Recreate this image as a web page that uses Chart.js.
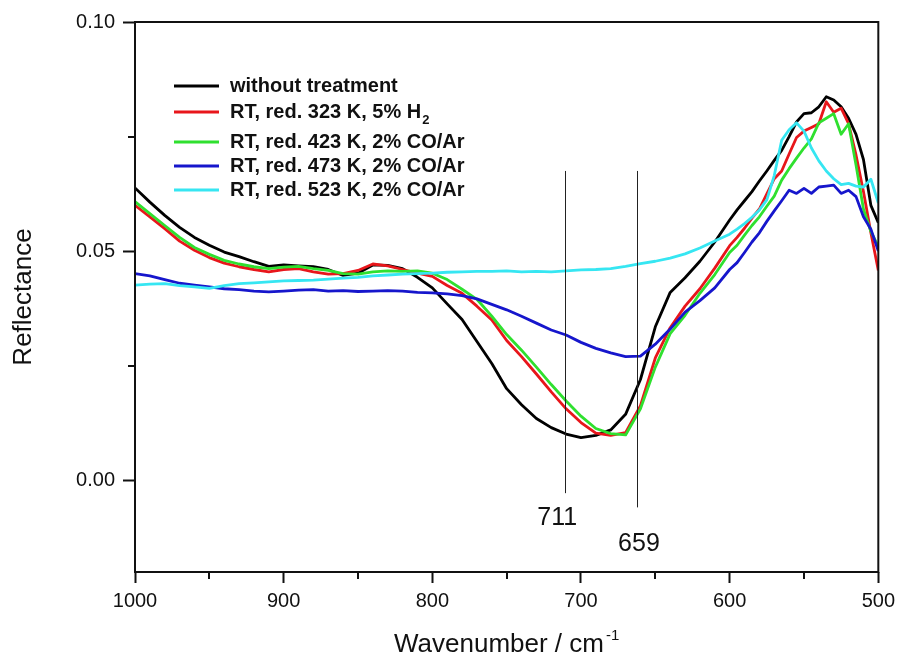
<!DOCTYPE html>
<html>
<head>
<meta charset="utf-8">
<script src="https://cdn.jsdelivr.net/npm/chart.js@4.4.8/dist/chart.umd.min.js"></script>
<style>
  html, body { margin: 0; padding: 0; background: #fff; }
  #wrap { width: 901px; height: 661px; }
</style>
</head>
<body>
<div id="wrap"><canvas id="chart" width="901" height="661"></canvas></div>
<script>
const FONT = "'Liberation Sans', Arial, Helvetica, sans-serif";

// wavenumber grid (cm-1), 10 steps down to 610, then 5 steps to 500
const wavenumbers = [
  1000, 990, 980, 970, 960, 950, 940, 930, 920, 910,
  900, 890, 880, 870, 860, 850, 840, 830, 820, 810,
  800, 790, 780, 770, 760, 750, 740, 730, 720, 710,
  700, 690, 680, 670, 660, 650, 640, 630, 620, 610,
  600, 595, 590, 585, 580, 575, 570, 565, 560, 555,
  550, 545, 540, 535, 530, 525, 520, 515, 510, 505, 500
];

const withoutTreatment = [
  0.0638, 0.0607, 0.0578, 0.0552, 0.0530, 0.0513, 0.0498, 0.0488, 0.0477, 0.0467,
  0.0470, 0.0468, 0.0466, 0.0460, 0.0447, 0.0452, 0.0470, 0.0469, 0.0462, 0.0443,
  0.0420, 0.0385, 0.0351, 0.0303, 0.0255, 0.0200, 0.0165, 0.0135, 0.0115, 0.0101,
  0.0093, 0.0098, 0.0110, 0.0144, 0.0220, 0.0335, 0.0410, 0.0442, 0.0478, 0.0520,
  0.0568, 0.0590, 0.0610, 0.0630, 0.0653, 0.0675, 0.0698, 0.0720, 0.0750, 0.0782,
  0.0800, 0.0802, 0.0815, 0.0837, 0.0830, 0.0815, 0.0790, 0.0755, 0.0700, 0.0600, 0.0562
];

const red323H2 = [
  0.0600, 0.0575, 0.0549, 0.0522, 0.0502, 0.0486, 0.0474, 0.0466, 0.0460, 0.0455,
  0.0460, 0.0462, 0.0455, 0.0450, 0.0451, 0.0458, 0.0472, 0.0468, 0.0460, 0.0452,
  0.0445, 0.0425, 0.0408, 0.0380, 0.0350, 0.0305, 0.0270, 0.0232, 0.0193, 0.0156,
  0.0126, 0.0103, 0.0098, 0.0104, 0.0163, 0.0267, 0.0333, 0.0380, 0.0418, 0.0463,
  0.0512, 0.0530, 0.0550, 0.0572, 0.0592, 0.0625, 0.0658, 0.0675, 0.0712, 0.0748,
  0.0762, 0.0770, 0.0778, 0.0826, 0.0803, 0.0812, 0.0778, 0.0710, 0.0630, 0.0540, 0.0458
];

const red423CO = [
  0.0608, 0.0582, 0.0556, 0.0530, 0.0508, 0.0493, 0.0480, 0.0472, 0.0466, 0.0462,
  0.0465, 0.0467, 0.0462, 0.0458, 0.0451, 0.0450, 0.0455, 0.0457, 0.0456, 0.0457,
  0.0452, 0.0438, 0.0417, 0.0395, 0.0358, 0.0318, 0.0284, 0.0247, 0.0209, 0.0173,
  0.0140, 0.0113, 0.0102, 0.0099, 0.0156, 0.0247, 0.0320, 0.0360, 0.0408, 0.0449,
  0.0497, 0.0513, 0.0535, 0.0556, 0.0575, 0.0598, 0.0620, 0.0655, 0.0680, 0.0703,
  0.0725, 0.0745, 0.0780, 0.0790, 0.0800, 0.0755, 0.0778, 0.0688, 0.0592, 0.0543, 0.0510
];

const red473CO = [
  0.0451, 0.0446, 0.0438, 0.0430, 0.0426, 0.0422, 0.0418, 0.0416, 0.0413, 0.0411,
  0.0413, 0.0415, 0.0416, 0.0413, 0.0414, 0.0412, 0.0413, 0.0414, 0.0413, 0.0410,
  0.0409, 0.0407, 0.0403, 0.0396, 0.0384, 0.0372, 0.0358, 0.0343, 0.0328, 0.0317,
  0.0301, 0.0288, 0.0278, 0.0270, 0.0271, 0.0297, 0.0330, 0.0367, 0.0392, 0.0420,
  0.0460, 0.0475, 0.0497, 0.0520, 0.0540, 0.0565, 0.0588, 0.0610, 0.0633, 0.0626,
  0.0637, 0.0626, 0.0640, 0.0642, 0.0644, 0.0626, 0.0633, 0.0619, 0.0575, 0.0548, 0.0500
];

const red523CO = [
  0.0426, 0.0428, 0.0429, 0.0425, 0.0422, 0.0419, 0.0425, 0.0429, 0.0431, 0.0433,
  0.0435, 0.0436, 0.0437, 0.0439, 0.0441, 0.0443, 0.0446, 0.0448, 0.0450, 0.0451,
  0.0452, 0.0454, 0.0455, 0.0456, 0.0456, 0.0457, 0.0455, 0.0456, 0.0455, 0.0457,
  0.0459, 0.0460, 0.0462, 0.0467, 0.0473, 0.0478, 0.0485, 0.0494, 0.0507, 0.0522,
  0.0537, 0.0548, 0.0560, 0.0574, 0.0590, 0.0612, 0.0665, 0.0742, 0.0765, 0.0780,
  0.0762, 0.0725, 0.0697, 0.0675, 0.0658, 0.0645, 0.0648, 0.0642, 0.0640, 0.0657, 0.0605
];

const seriesValues = [withoutTreatment, red323H2, red423CO, red473CO, red523CO];
const seriesLabels = [
  "without treatment",
  "RT, red. 323 K, 5% H",
  "RT, red. 423 K, 2% CO/Ar",
  "RT, red. 473 K, 2% CO/Ar",
  "RT, red. 523 K, 2% CO/Ar"
];
const seriesSubscripts = ["", "2", "", "", ""];
const seriesColors = ["#000000", "#e8161b", "#2fe02f", "#1616cc", "#36e6f2"];

const xTicks = [1000, 900, 800, 700, 600, 500];
const xMinorTicks = [950, 850, 750, 650, 550];
const yTicks = [0, 0.05, 0.10];
const yMinorTicks = [0.025, 0.075];

// marked band positions (where the lines sit) and their labels
const markerPositions = [711, 662];
const markerLabels = ["711", "659"];

function drawFrame(chart) {
  const { ctx, chartArea: a, scales } = chart;
  ctx.save();
  ctx.strokeStyle = "#111";
  ctx.lineWidth = 2;
  ctx.strokeRect(a.left, a.top, a.right - a.left, a.bottom - a.top);

  // minor ticks, outward
  ctx.beginPath();
  xMinorTicks.forEach((v) => {
    const x = Math.round(scales.x.getPixelForValue(v));
    ctx.moveTo(x, a.bottom);
    ctx.lineTo(x, a.bottom + 7);
  });
  yMinorTicks.forEach((v) => {
    const y = Math.round(scales.y.getPixelForValue(v));
    ctx.moveTo(a.left, y);
    ctx.lineTo(a.left - 7, y);
  });
  ctx.stroke();
  ctx.restore();
}

function drawMarkers(chart) {
  const { ctx, scales } = chart;
  const bottoms = [-0.0028, -0.0059];
  const labelPos = [[716, -0.0082], [661, -0.0140]];
  ctx.save();
  ctx.strokeStyle = "#222";
  ctx.lineWidth = 1;
  markerPositions.forEach((wn, i) => {
    const x = Math.round(scales.x.getPixelForValue(wn)) + 0.5;
    ctx.beginPath();
    ctx.moveTo(x, scales.y.getPixelForValue(0.0675));
    ctx.lineTo(x, scales.y.getPixelForValue(bottoms[i]));
    ctx.stroke();
  });
  ctx.fillStyle = "#111";
  ctx.font = `25px ${FONT}`;
  ctx.textAlign = "center";
  ctx.textBaseline = "middle";
  markerLabels.forEach((txt, i) => {
    const [wn, v] = labelPos[i];
    ctx.fillText(txt, scales.x.getPixelForValue(wn), scales.y.getPixelForValue(v));
  });
  ctx.restore();
}

function drawLegend(chart) {
  const { ctx } = chart;
  const rowsY = [86, 112, 142, 166, 190];
  ctx.save();
  ctx.textBaseline = "middle";
  ctx.textAlign = "left";
  seriesLabels.forEach((label, i) => {
    const y = rowsY[i];
    ctx.strokeStyle = seriesColors[i];
    ctx.lineWidth = 3;
    ctx.beginPath();
    ctx.moveTo(174, y);
    ctx.lineTo(219, y);
    ctx.stroke();
    ctx.fillStyle = "#111";
    ctx.font = `bold 20px ${FONT}`;
    ctx.fillText(label, 230, y);
    if (seriesSubscripts[i]) {
      const w = ctx.measureText(label).width;
      ctx.font = `bold 13px ${FONT}`;
      ctx.fillText(seriesSubscripts[i], 230 + w + 1, y + 8);
    }
  });
  ctx.restore();
}

function drawXTitle(chart) {
  const { ctx, chartArea: a } = chart;
  const main = "Wavenumber / cm";
  const sup = "-1";
  ctx.save();
  ctx.fillStyle = "#111";
  ctx.textBaseline = "middle";
  ctx.textAlign = "left";
  ctx.font = `26px ${FONT}`;
  const w1 = ctx.measureText(main).width;
  ctx.font = `15px ${FONT}`;
  const w2 = ctx.measureText(sup).width;
  const start = (a.left + a.right) / 2 - (w1 + w2 + 2) / 2;
  ctx.font = `26px ${FONT}`;
  ctx.fillText(main, start, 645);
  ctx.font = `15px ${FONT}`;
  ctx.fillText(sup, start + w1 + 2, 636);
  ctx.restore();
}

const decorPlugin = {
  id: "decor",
  afterDatasetsDraw(chart) {
    drawMarkers(chart);
    drawFrame(chart);
  },
  afterDraw(chart) {
    drawLegend(chart);
    drawXTitle(chart);
  }
};

const datasets = seriesValues.map((vals, i) => ({
  label: seriesLabels[i],
  data: wavenumbers.map((wn, j) => ({ x: wn, y: vals[j] })),
  borderColor: seriesColors[i],
  borderWidth: 2.8,
  pointRadius: 0,
  tension: 0,
  fill: false,
  borderJoinStyle: "round",
  order: seriesValues.length - i
}));

new Chart(document.getElementById("chart"), {
  type: "line",
  data: { datasets },
  plugins: [decorPlugin],
  options: {
    responsive: false,
    devicePixelRatio: 1,
    animation: false,
    layout: { padding: { left: 0, top: 22, right: 22, bottom: 0 } },
    plugins: {
      legend: { display: false },
      tooltip: { enabled: false }
    },
    scales: {
      x: {
        type: "linear",
        reverse: true,
        min: 500,
        max: 1000,
        afterFit(scale) { scale.height = 89; },
        afterBuildTicks(scale) { scale.ticks = xTicks.map((v) => ({ value: v })); },
        border: { display: false },
        grid: {
          drawOnChartArea: false,
          drawTicks: true,
          tickLength: 11,
          tickWidth: 2,
          tickColor: "#111"
        },
        ticks: {
          color: "#111",
          padding: 6,
          maxRotation: 0,
          font: { family: FONT, size: 20 },
          callback: (v) => String(v)
        },
        title: { display: false }
      },
      y: {
        type: "linear",
        min: -0.02,
        max: 0.10,
        afterFit(scale) { scale.width = 135; },
        afterBuildTicks(scale) { scale.ticks = yTicks.map((v) => ({ value: v })); },
        border: { display: false },
        grid: {
          drawOnChartArea: false,
          drawTicks: true,
          tickLength: 12,
          tickWidth: 2,
          tickColor: "#111"
        },
        ticks: {
          color: "#111",
          padding: 8,
          font: { family: FONT, size: 20 },
          callback: (v) => Number(v).toFixed(2)
        },
        title: {
          display: true,
          text: "Reflectance",
          color: "#111",
          padding: { top: 8, bottom: 0 },
          font: { family: FONT, size: 26 }
        }
      }
    }
  }
});
</script>
</body>
</html>
